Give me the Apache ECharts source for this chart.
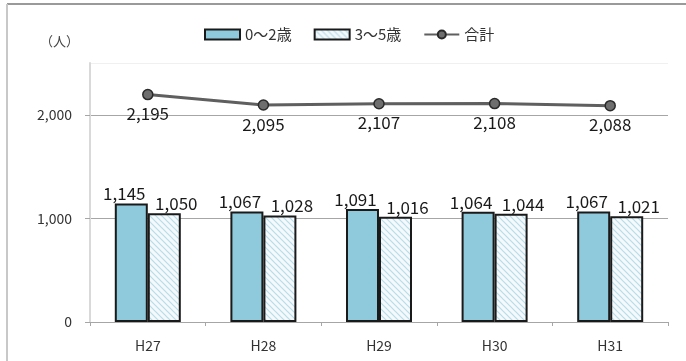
<!DOCTYPE html>
<html>
<head>
<meta charset="utf-8">
<script src="https://cdn.jsdelivr.net/npm/echarts@6/dist/echarts.min.js"></script>
<style>
  html, body { margin: 0; padding: 0; background: #fff; }
  #chart { width: 686px; height: 361px; }
</style>
</head>
<body>
<div id="chart"></div>
<script>
var categories = ['H27', 'H28', 'H29', 'H30', 'H31'];
var age0to2 = [1145, 1067, 1091, 1064, 1067];
var age3to5 = [1050, 1028, 1016, 1044, 1021];
var total = [2195, 2095, 2107, 2108, 2088];
var seriesNames = ['0～2歳', '3～5歳', '合計'];

var fontJP = '"Noto Sans CJK JP", "Noto Sans", sans-serif';

function fmt(v) {
    return String(v).replace(/\B(?=(\d{3})+(?!\d))/g, ',');
}

// hatch pattern for the 3~5 bars
function makeHatch() {
    var c = document.createElement('canvas');
    c.width = 6;
    c.height = 6;
    var ctx = c.getContext('2d');
    ctx.fillStyle = '#f4fafc';
    ctx.fillRect(0, 0, 6, 6);
    ctx.strokeStyle = '#b9dce7';
    ctx.lineWidth = 1.2;
    ctx.beginPath();
    ctx.moveTo(0, 0); ctx.lineTo(6, 6);
    ctx.moveTo(-3, 3); ctx.lineTo(3, 9);
    ctx.moveTo(3, -3); ctx.lineTo(9, 3);
    ctx.stroke();
    return c;
}

var chart = echarts.init(document.getElementById('chart'));
var hatch = { image: makeHatch(), repeat: 'repeat' };

function barLabel(dx) {
    return {
        show: true, position: 'top', distance: 1, offset: [dx, 0],
        fontSize: 17, color: '#1a1a1a', fontFamily: fontJP,
        formatter: function (p) { return fmt(p.value); }
    };
}

var option = {
    animation: false,
    textStyle: { fontFamily: fontJP },
    graphic: [
        { type: 'line', shape: { x1: 7, y1: 4, x2: 686, y2: 4 }, style: { stroke: '#9a9a9a', lineWidth: 2 } },
        { type: 'line', shape: { x1: 7, y1: 4, x2: 7, y2: 361 }, style: { stroke: '#c8c8c8', lineWidth: 2 } },
        { type: 'text', left: 40, top: 35, style: { text: '（人）', fontSize: 13, fill: '#444', fontFamily: fontJP } }
    ],
    legend: {
        top: 22,
        left: 199,
        itemWidth: 35,
        itemHeight: 10,
        itemGap: 22,
        textStyle: { fontSize: 15, color: '#333', fontFamily: fontJP },
        data: [
            { name: seriesNames[0], icon: 'rect' },
            { name: seriesNames[1], icon: 'rect' },
            { name: seriesNames[2] }
        ]
    },
    grid: { left: 90, right: 18, top: 63, bottom: 39 },
    xAxis: {
        type: 'category',
        data: categories,
        axisLine: { lineStyle: { color: '#a6a6a6', width: 1 } },
        axisTick: { show: true, length: 4, lineStyle: { color: '#a6a6a6' } },
        axisLabel: { fontSize: 14, color: '#333', margin: 17, fontFamily: fontJP }
    },
    yAxis: {
        type: 'value',
        min: 0,
        max: 2500,
        interval: 1000,
        axisLine: { show: true, lineStyle: { color: '#d9d9d9', width: 2 } },
        axisTick: { show: true, length: 5, lineStyle: { color: '#a6a6a6' } },
        axisLabel: {
            fontSize: 14,
            color: '#333',
            margin: 18,
            fontFamily: fontJP,
            showMaxLabel: false,
            formatter: function (v) { return v === 2500 ? '' : fmt(v); }
        },
        splitLine: { lineStyle: { color: ['#a6a6a6', '#a6a6a6', '#a6a6a6', '#f0f0f0'], width: 1 } }
    },
    series: [
        {
            name: seriesNames[0],
            type: 'bar',
            data: age0to2,
            barWidth: 33,
            barGap: '0%',
            itemStyle: { color: '#8ecadb', borderColor: '#1a1a1a', borderWidth: 2 },
            label: barLabel(-7)
        },
        {
            name: seriesNames[1],
            type: 'bar',
            data: age3to5,
            barWidth: 33,
            barGap: '0%',
            itemStyle: { color: hatch, borderColor: '#1a1a1a', borderWidth: 2 },
            label: barLabel(12)
        },
        {
            name: seriesNames[2],
            type: 'line',
            data: total,
            symbol: 'circle',
            symbolSize: 10,
            lineStyle: { color: '#5f5f5f', width: 3 },
            itemStyle: { color: '#6e6e6e', borderColor: '#2a2a2a', borderWidth: 1.5 },
            label: {
                show: true, position: 'bottom', distance: 5,
                fontSize: 17, color: '#1a1a1a', fontFamily: fontJP,
                formatter: function (p) { return fmt(p.value); }
            }
        }
    ]
};

chart.setOption(option);
</script>
</body>
</html>
